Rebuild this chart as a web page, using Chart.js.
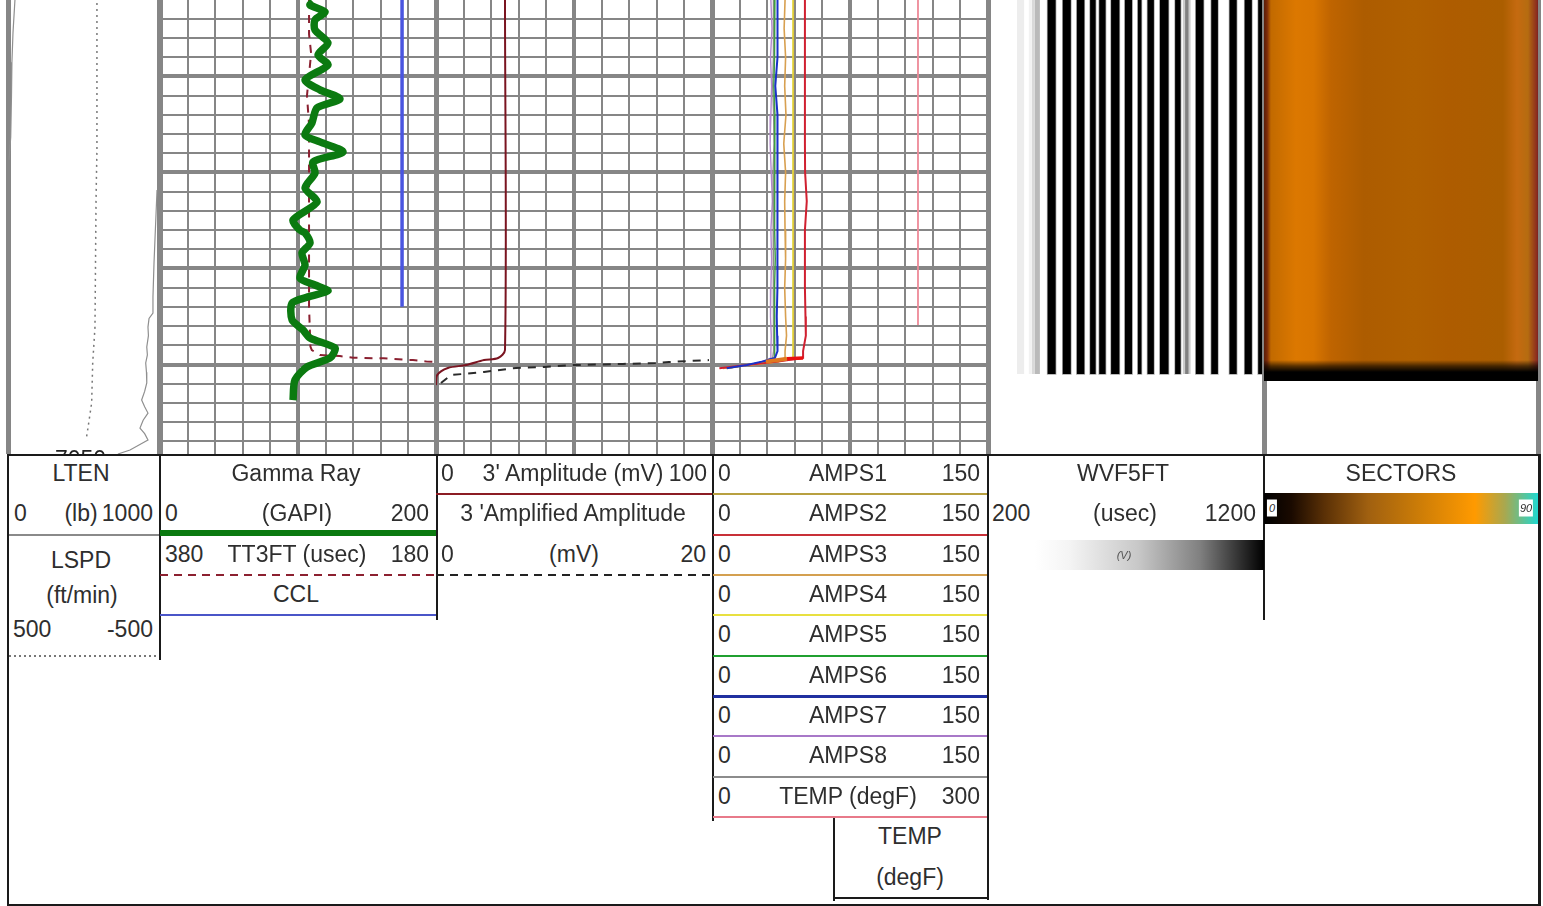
<!DOCTYPE html>
<html>
<head>
<meta charset="utf-8">
<title>Well log</title>
<script src="https://cdn.jsdelivr.net/npm/chart.js@4/dist/chart.umd.min.js"></script>
<style>
  html, body { margin: 0; background: #fff; }
  body { position: relative; width: 1543px; height: 906px; overflow: hidden; font-family: "Liberation Sans", Arial, sans-serif; }
  canvas { position: absolute; top: 0; }
  .txt { position: absolute; font-size: 23px; color: #2e2e2e; white-space: pre; line-height: 1; }
  .rule { position: absolute; }
</style>
</head>
<body>
<script>
// --- depth range of the picture (ft) ---
const depthTop = 6810.2;
const depthBottom = 7046.6;

// --- LTEN / LSPD ---
const ltenDepthA = [6810.2, 6827.3, 6842.6, 6860.7, 6881.5, 6893.5];
const ltenValuesA = [46, 33, 26, 23, 18, 7];
const ltenDepthB = [6909.1, 6933.6, 6947.1, 6964.8, 6973.2, 6976, 6980.5, 6985, 6990.9, 6995, 6999.2, 7004, 7009.6, 7014, 7018.5, 7022, 7025.3, 7029, 7033.1, 7036, 7039.3, 7044.5, 7046.6];
const ltenValuesB = [987, 974, 967, 960, 960, 934, 927, 930, 919, 923, 912, 917, 919, 905, 885, 905, 927, 895, 874, 905, 927, 808, 728];
const lspdDepth = [6811.7, 6888, 6914, 6980.5, 6999.2, 7020, 7032.8, 7039.4];
const lspdValues = [-89, -89, -83, -76, -61, -54, -30, -17];

// --- Gamma Ray, TT3FT, CCL ---
const grDepth = [6811.2, 6812.8, 6816.4, 6820.6, 6825.8, 6832.6, 6838.8, 6844, 6851.8, 6857, 6861.7, 6866.4, 6874.2, 6880.5, 6884.1, 6889.3, 6894.5, 6900.3, 6908.1, 6915.4, 6924.7, 6930, 6931.5, 6936.7, 6941.9, 6948.2, 6955, 6958.6, 6961.7, 6964.8, 6968, 6976.8, 6982, 6986.2, 6991.4, 6996.6, 7001.3, 7008.1, 7018.5];
const grValues = [110.9, 108.7, 119.6, 112.3, 112.3, 121.7, 114.5, 121.7, 105.1, 115.9, 130.4, 113.8, 110.1, 105.1, 115.9, 132.6, 110.9, 112.3, 105.1, 113.8, 96.4, 101.4, 105.1, 108.7, 102.9, 105.1, 101.4, 112.3, 121.7, 107.2, 95.7, 95.7, 103.6, 108.7, 126.8, 123.2, 106.5, 97.8, 96.4];
const ttDepth = [6810.2, 6828, 6838, 6860, 6875, 6900, 6940, 6970, 6990.7, 6992.5, 6995.1, 6995.6, 6996.5, 6996.8, 6997.7, 6998.5, 6998.7];
const ttValues = [272, 272, 270.5, 273.5, 272, 272, 272, 272, 271, 270, 264, 249.6, 240, 218, 196.7, 186.5, 180];
const cclDepth = [6810.2, 6969.9];
const cclValues = [87.7, 87.7];

// --- 3' Amplitude and amplified ---
const ampDepth = [6810.2, 6992.5, 6996.6, 6997.7, 7000.3, 7001.8, 7005.5, 7010.7];
const ampValues = [25, 25, 22.5, 17.4, 10.9, 4.3, 0.4, 0];
const amplifiedDepth = [7009.6, 7005.5, 7003.9, 7001.8, 7001.3, 7000.3, 6999.7, 6999.2, 6998.7, 6997.7];
const amplifiedValues = [0.36, 1.09, 3.48, 5.8, 7.83, 9.93, 13.55, 15.87, 16.88, 19.78];

// --- AMPS1-8, TEMP ---
const ampsDepth = [6810.2, 6825, 6840, 6855, 6870, 6885, 6900, 6915, 6930, 6945, 6960, 6975, 6985, 6993, 6996.6, 6998.5, 7000.3, 7002];
const amps1 = [44.3, 44.4, 44.2, 44.3, 44.3, 44.4, 44.3, 44.3, 44.2, 44.3, 44.3, 44.3, 44.2, 44.3, 44, 36, 19, 8];
const amps2 = [50.5, 50.5, 50.5, 50.5, 50.5, 50.5, 50.6, 51.5, 50.5, 50.5, 50.5, 50.8, 51, 49.5, 49.5, 36, 19, 4];
const amps3 = [39.7, 39.2, 40, 39.5, 40.2, 39, 40, 39.5, 39.7, 40, 39.5, 40, 40.5, 39.7, 39.7, 36, 19, 6];
const amps4 = [44, 44, 44, 44, 44, 44, 44, 44, 44, 44, 44, 44, 44, 44, 44, 36, 19, 8];
const amps5 = [34.2, 33.8, 34.2, 33.6, 34.2, 34, 34.2, 33.8, 34.2, 34.4, 34, 33.8, 34.2, 34.2, 34, 28, 19, 8];
const amps6 = [35.6, 35.6, 35.6, 34.4, 35.6, 35.6, 35.6, 35.6, 35.4, 35.6, 35.6, 35.2, 35.4, 35.6, 34.2, 27, 19, 8];
const amps7 = [32, 32.6, 31.8, 32.4, 32, 31.6, 32.2, 32.8, 32, 32.4, 32, 31.8, 32.2, 32, 32, 28, 19, 8];
const amps8 = [33.5, 33.2, 33.6, 33, 33.5, 33.7, 33.2, 33.5, 33.6, 33.4, 33.5, 33.2, 33.5, 33.5, 33, 28, 19, 8];
const footRedDepth = [6996.6, 6997];
const footRedValues = [49.5, 40.8];
const footOrangeDepth = [6997, 6998.5];
const footOrangeValues = [40.8, 29.3];
const tempDepth = [6810.2, 6979.4];
const tempValues = [223.9, 223.9];

// --- WVF5FT stripes (usec) ---
const wvfStart = [305, 348, 359, 370, 416, 471, 522, 570, 603, 646, 696, 743, 778, 823, 878, 906, 914, 927, 953, 1009, 1075, 1130, 1179];
const wvfEnd = [331, 359, 370, 388, 445, 500, 549, 590, 626, 676, 722, 756, 801, 854, 898, 914, 927, 934, 981, 1033, 1101, 1156, 1200];
const wvfAmplitude = [0.07, 0.05, 0.15, 0.27, 1, 1, 1, 1, 1, 1, 1, 1, 1, 1, 1, 0.2, 0.5, 0.2, 1, 1, 1, 1, 1];
const wvfDepthEnd = 7004.9;

// --- SECTORS colour across the angle ---
const sectorAngles = [0, 1, 2.3, 10.5, 16.3, 22, 32.8, 49.3, 60.8, 78.5, 83.1, 86.7, 89.7, 90];
const sectorColors = ['#5a1e08', '#7a2a0a', '#c26a00', '#dc7800', '#d87500', '#bf6400', '#ad5c00', '#b06000', '#ae5c00', '#ab5e00', '#c56a10', '#b56c10', '#8a2a20', '#7a2020'];
const sectorDepthEnd = 7008.6;
const fadeDepths = [6997.7, 7000.8, 7003.9, 7008.6];
const fadeAlphas = [0, 0.6, 1, 1];

// --- depth ticks ---
const depthStep = 10;
const depthMajor = 50;
const depthLabels = [7050];

// --- header text: [text, x, y, align] ---
const rowY = [473, 513, 554, 594, 634, 675, 715, 755, 796, 836, 877];
const ampsNames = ['AMPS1', 'AMPS2', 'AMPS3', 'AMPS4', 'AMPS5', 'AMPS6', 'AMPS7', 'AMPS8', 'TEMP (degF)'];
const ampsMax = ['150', '150', '150', '150', '150', '150', '150', '150', '300'];
const headerTexts = [
  ['LTEN', 81, rowY[0], 'c'], ['0', 14, rowY[1], 'l'], ['(lb)', 81, rowY[1], 'c'], ['1000', 153, rowY[1], 'r'],
  ['LSPD', 81, 560, 'c'], ['(ft/min)', 82, 595, 'c'], ['500', 13, 629, 'l'], ['-500', 153, 629, 'r'],
  ['Gamma Ray', 296, rowY[0], 'c'], ['0', 165, rowY[1], 'l'], ['(GAPI)', 297, rowY[1], 'c'], ['200', 429, rowY[1], 'r'],
  ['380', 165, rowY[2], 'l'], ['TT3FT (usec)', 297, rowY[2], 'c'], ['180', 429, rowY[2], 'r'], ['CCL', 296, rowY[3], 'c'],
  ['0', 441, rowY[0], 'l'], ["3' Amplitude (mV)", 573, rowY[0], 'c'], ['100', 707, rowY[0], 'r'],
  ["3 'Amplified Amplitude", 573, rowY[1], 'c'], ['0', 441, rowY[2], 'l'], ['(mV)', 574, rowY[2], 'c'], ['20', 706, rowY[2], 'r'],
  ['TEMP', 910, rowY[9], 'c'], ['(degF)', 910, rowY[10], 'c'],
  ['WVF5FT', 1123, rowY[0], 'c'], ['200', 992, rowY[1], 'l'], ['(usec)', 1125, rowY[1], 'c'], ['1200', 1256, rowY[1], 'r'],
  ['SECTORS', 1401, rowY[0], 'c']
];

// --- header layout ---
const black = '#1a1a1a';
const rules = [
  // frame and dividers: x, y, w, h, colour
  [7, 454, 1533, 2, black], [7, 454, 2, 452, black], [1538, 454, 3, 452, black], [7, 904, 1534, 2, black],
  [159, 454, 1.5, 206, black], [436, 454, 1.5, 166, black], [712, 454, 1.5, 367, black],
  [987, 454, 1.5, 446, black], [1263, 454, 1.5, 166, black], [833, 817, 1.5, 84, black], [833, 897, 155, 2, black],
  // curve keys
  [9, 534, 150, 2, '#8a8a8a'], [160, 530, 276, 6, '#0b7a10'], [160, 614, 276, 2, '#4a55c8'],
  [436, 493, 276, 2, '#8c1c24'], [713, 493, 274, 2, '#b8a040'], [713, 534, 274, 2, '#c83038'],
  [713, 574, 274, 2, '#d4a050'], [713, 614, 274, 2, '#e8e040'], [713, 655, 274, 2, '#20a030'],
  [713, 695, 274, 3, '#2030a0'], [713, 735, 274, 2, '#a878c8'], [713, 776, 274, 2, '#8c8c8c'], [713, 816, 274, 2, '#e87a8a']
];
const dashedRules = [
  [9, 655, 150, '#777777', 2, 5, 2],
  [160, 574, 276, '#8c2030', 8, 14, 2],
  [436, 574, 276, '#222222', 8, 14, 2]
];

function addText(text, x, y, align, extra) {
  const el = document.createElement('div');
  el.className = 'txt';
  el.textContent = text;
  const dx = align === 'l' ? '0' : align === 'c' ? '-50%' : '-100%';
  el.style.left = x + 'px';
  el.style.top = y + 'px';
  el.style.transform = `translate(${dx}, -50%)`;
  if (extra) Object.assign(el.style, extra);
  document.body.appendChild(el);
}

function addRule(x, y, w, h, css) {
  const el = document.createElement('div');
  el.className = 'rule';
  Object.assign(el.style, { left: x + 'px', top: y + 'px', width: w + 'px', height: h + 'px' }, css);
  document.body.appendChild(el);
}

function drawHeader() {
  rules.forEach(r => addRule(r[0], r[1], r[2], r[3], { background: r[4] }));
  dashedRules.forEach(r => addRule(r[0], r[1], r[2], r[6], {
    background: `repeating-linear-gradient(90deg, ${r[3]} 0 ${r[4]}px, transparent ${r[4]}px ${r[5]}px)`
  }));
  headerTexts.forEach(t => addText(t[0], t[1], t[2], t[3]));
  ampsNames.forEach((name, i) => {
    addText('0', 718, rowY[i], 'l');
    addText(name, 848, rowY[i], 'c');
    addText(ampsMax[i], 980, rowY[i], 'r');
  });
  // colour keys
  addRule(1035, 540, 229, 30, { background: 'linear-gradient(90deg, #ffffff 0%, #f4f4f4 15%, #c8c8c8 45%, #808080 72%, #000000 100%)' });
  addText('(V)', 1124, 555, 'c', { fontSize: '11px', fontStyle: 'italic', color: '#555' });
  addRule(1264, 493, 274, 31, { background: 'linear-gradient(90deg, #000 0%, #1a0a00 10%, #5a3006 22%, #a06010 38%, #c87a08 55%, #ff9a00 77%, #a8a850 88%, #20d8d0 100%)' });
  addText('0', 1272, 508, 'c', { fontSize: '11px', fontStyle: 'italic', background: '#fff', padding: '3px 2px' });
  addText('90', 1526, 508, 'c', { fontSize: '11px', fontStyle: 'italic', background: '#fff', padding: '3px 1px' });
}

// --- helpers for the charts ---
function xy(xs, ys) {
  return xs.map((v, i) => ({ x: v, y: ys[i] }));
}

function curve(xs, ys, color, width, extra) {
  return Object.assign({
    data: xy(xs, ys), showLine: true, borderColor: color, borderWidth: width,
    pointRadius: 0, fill: false, tension: 0
  }, extra);
}

function band(x0, x1, d0, d1, color, edge) {
  return {
    data: [{ x: x0, y: d0 }, { x: x1, y: d0 }, { x: x1, y: d1 }, { x: x0, y: d1 }, { x: x0, y: d0 }],
    showLine: true, borderWidth: edge ? 1.5 : 0, borderColor: edge || 'transparent', pointRadius: 0,
    fill: 'shape', backgroundColor: color
  };
}

// vertical grid with a heavier centre line and track edges
function xGrid(step, major, edges) {
  return {
    drawTicks: false,
    color: '#868686',
    lineWidth: ctx => {
      const v = ctx.tick.value;
      if (edges.includes(v)) return 5;
      return major && v % major === 0 ? 4 : 2;
    }
  };
}

function trackChart(left, width, datasets, xOpts, extraScales, plugins) {
  const canvas = document.createElement('canvas');
  canvas.width = width + 6;
  canvas.height = 454;
  canvas.style.left = (left - 3) + 'px';
  document.body.appendChild(canvas);
  const scales = {
    x: Object.assign({
      type: 'linear',
      border: { display: false },
      ticks: { display: false, stepSize: xOpts.step, includeBounds: false, autoSkip: false },
      grid: xGrid(xOpts.step, xOpts.major, [xOpts.min, xOpts.max])
    }, { min: xOpts.min, max: xOpts.max }),
    y: {
      type: 'linear', reverse: true, min: depthTop, max: depthBottom,
      border: { display: false },
      ticks: { display: false, stepSize: depthStep, includeBounds: false, autoSkip: false },
      grid: xOpts.yGrid === false ? { display: false, drawTicks: false } : {
        drawTicks: false, color: '#868686',
        lineWidth: ctx => (ctx.tick.value % depthMajor === 0 ? 4 : 2)
      }
    }
  };
  Object.keys(extraScales || {}).forEach(k => {
    scales[k] = Object.assign({ type: 'linear', display: false }, extraScales[k]);
  });
  return new Chart(canvas, {
    type: 'scatter',
    data: { datasets: datasets },
    options: {
      responsive: false,
      animation: false,
      layout: { padding: { left: 3, right: 3, top: 0, bottom: 0 } },
      plugins: { legend: { display: false }, tooltip: { enabled: false } },
      scales: scales
    },
    plugins: plugins || []
  });
}

const depthLabelPlugin = {
  id: 'depthLabels',
  afterDraw(chart) {
    const c = chart.ctx;
    c.save();
    c.font = '23px "Liberation Sans"';
    c.fillStyle = '#222';
    c.textAlign = 'center';
    c.textBaseline = 'middle';
    depthLabels.forEach(d => c.fillText(String(d), chart.scales.x.getPixelForValue(480), chart.scales.y.getPixelForValue(d)));
    c.restore();
  }
};

function sectorGradient(ctx) {
  const chart = ctx.chart;
  const sx = chart.scales.x;
  if (!sx || !chart.chartArea) return '#b06000';
  const g = chart.ctx.createLinearGradient(sx.left, 0, sx.right, 0);
  sectorAngles.forEach((a, i) => g.addColorStop(a / 90, sectorColors[i]));
  return g;
}

function fadeGradient(ctx) {
  const chart = ctx.chart;
  const sy = chart.scales.y;
  if (!sy || !chart.chartArea) return 'transparent';
  const y0 = sy.getPixelForValue(fadeDepths[0]);
  const y1 = sy.getPixelForValue(fadeDepths[fadeDepths.length - 1]);
  const g = chart.ctx.createLinearGradient(0, y0, 0, y1);
  fadeDepths.forEach((d, i) => g.addColorStop((d - fadeDepths[0]) / (fadeDepths[fadeDepths.length - 1] - fadeDepths[0]), `rgba(0,0,0,${fadeAlphas[i]})`));
  return g;
}

// --- tracks ---
trackChart(8, 151, [
  curve(ltenValuesA, ltenDepthA, '#8f8f8f', 1.2),
  curve(ltenValuesB, ltenDepthB, '#8f8f8f', 1.2),
  curve(lspdValues, lspdDepth, '#777777', 1.5, { xAxisID: 'lspd', borderDash: [2, 4] })
], { min: 0, max: 1000, step: 1000, yGrid: false }, { lspd: { reverse: true, min: -500, max: 500 } }, [depthLabelPlugin]);

trackChart(160, 276, [
  curve(grValues, grDepth, '#0b7a10', 7.5, { tension: 0.25, borderCapStyle: 'butt' }),
  curve(cclValues, cclDepth, '#4a55e0', 3.5, { xAxisID: 'ccl' }),
  curve(ttValues, ttDepth, '#8a2030', 2, { xAxisID: 'tt', borderDash: [8, 7] })
], { min: 0, max: 200, step: 20, major: 100 }, { tt: { reverse: true, min: 180, max: 380 }, ccl: { min: 0, max: 100 } });

trackChart(436, 276, [
  curve(ampValues, ampDepth, '#7a1420', 2, { tension: 0.3 }),
  curve(amplifiedValues, amplifiedDepth, '#2a2a2a', 2, { xAxisID: 'amplified', borderDash: [8, 7] })
], { min: 0, max: 100, step: 10, major: 50 }, { amplified: { min: 0, max: 20 } });

trackChart(712, 276, [
  curve(footRedValues, footRedDepth, '#e81010', 3.5),
  curve(footOrangeValues, footOrangeDepth, '#e07820', 4),
  curve(amps6, ampsDepth, '#1a30c8', 2),
  curve(amps2, ampsDepth, '#d02030', 2),
  curve(amps4, ampsDepth, '#e6d840', 1.6),
  curve(amps1, ampsDepth, '#c8a030', 1.2),
  curve(amps3, ampsDepth, '#d8a050', 1.6),
  curve(amps5, ampsDepth, '#40a040', 1.4),
  curve(amps8, ampsDepth, '#8c8c8c', 1.4),
  curve(amps7, ampsDepth, '#b488cc', 1.4),
  curve(tempValues, tempDepth, '#ee8a98', 1.8, { xAxisID: 'temp' })
], { min: 0, max: 150, step: 15, major: 75 }, { temp: { min: 0, max: 300 } });

trackChart(988, 276, wvfStart.map((s, i) => {
  const grey = Math.round(255 * (1 - wvfAmplitude[i]));
  return band(s, wvfEnd[i], depthTop, wvfDepthEnd, `rgb(${grey},${grey},${grey})`, wvfAmplitude[i] === 1 ? 'rgba(0,0,0,0.35)' : null);
}), { min: 200, max: 1200, step: 1000, yGrid: false });

trackChart(1264, 274, [
  band(0, 90, fadeDepths[0], sectorDepthEnd, fadeGradient),
  band(0, 90, depthTop, sectorDepthEnd, sectorGradient)
], { min: 0, max: 90, step: 90, yGrid: false });

drawHeader();
</script>
</body>
</html>
